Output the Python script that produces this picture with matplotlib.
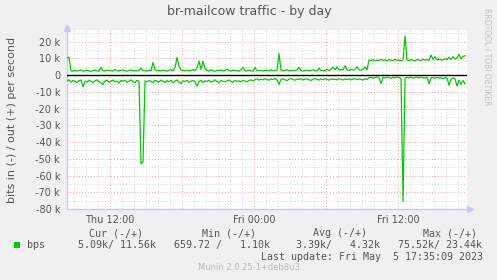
#!/usr/bin/env python3
"""Munin-style day graph of br-mailcow traffic (bits in / out per second)."""

import matplotlib

matplotlib.use("Agg")
import matplotlib.pyplot as plt
from matplotlib.patches import Rectangle
from matplotlib.ticker import FixedLocator, MultipleLocator

# samples every 10 minutes, starting Thu 08:25 (hours since Thu 00:00)
START_HOUR = 8.42
STEP_HOURS = 1 / 6

# out (+), kbit/s
bps_out = [
    10.5, 10.5, 2.6, 2.4, 2.8, 2.5, 2.7, 3.2, 2.4, 2.6, 2.9, 2.5, 2.3, 2.8, 3.0, 2.6, 2.4, 4.6, 2.7, 2.5,
    3.0, 2.6, 2.8, 2.4, 3.4, 2.7, 2.5, 2.9, 3.1, 2.6, 2.4, 2.8, 3.2, 2.6, 2.7, 2.5, 3.0, 4.2, 2.8, 2.6,
    2.5, 3.0, 2.7, 7.6, 3.2, 2.6, 2.8, 2.5, 3.1, 2.7, 2.4, 2.9, 3.3, 2.6, 4.5, 10.6, 5.5, 3.2, 2.7, 2.5,
    3.0, 2.6, 2.8, 3.4, 2.7, 4.5, 8.4, 3.5, 8.4, 3.8, 2.7, 2.5, 3.2, 2.6, 2.4, 2.9, 2.7, 3.1, 2.5, 2.8,
    3.6, 2.7, 2.5, 3.0, 2.6, 2.8, 2.4, 3.2, 4.6, 2.7, 2.5, 2.9, 2.6, 2.4, 4.5, 2.8, 2.6, 3.0, 2.5, 2.7,
    2.9, 2.5, 3.2, 2.6, 2.8, 3.0, 12.8, 3.0, 2.6, 2.8, 3.3, 2.5, 2.7, 2.9, 2.6, 3.1, 4.6, 2.8, 2.5, 2.7,
    3.0, 2.6, 2.8, 3.2, 2.7, 2.5, 4.2, 2.9, 2.6, 2.8, 3.4, 2.7, 3.5, 4.8, 3.2, 5.0, 3.0, 3.4, 3.1, 5.6,
    3.2, 2.9, 3.4, 3.0, 3.3, 5.1, 3.1, 2.9, 3.6, 5.0, 3.2, 9.0, 8.8, 9.2, 8.6, 9.0, 8.7, 9.5, 8.8, 9.1,
    8.6, 9.3, 8.9, 8.7, 9.4, 8.8, 9.0, 8.6, 9.2, 23.4, 9.1, 8.7, 9.3, 8.9, 8.6, 9.4, 9.0, 8.8, 9.5, 9.0,
    9.3, 8.9, 12.0, 9.4, 11.0, 9.1, 9.6, 9.2, 9.0, 9.8, 9.3, 10.5, 9.4, 11.0, 9.6, 10.2, 12.5, 9.8, 11.2, 11.6,
]

# in (-), kbit/s, drawn below zero
bps_in = [
    -3.5, -2.8, -4.2, -3.1, -3.8, -4.5, -3.2, -2.9, -7.0, -3.6, -4.1, -3.0, -3.7, -4.4, -3.3, -2.8, -3.9, -4.6, -5.6, -3.4,
    -3.0, -4.2, -3.6, -2.9, -4.0, -3.5, -4.8, -3.2, -3.7, -3.0, -4.3, -3.6, -2.8, -3.9, -4.4, -3.1, -3.6, -53.0, -52.0, -3.4,
    -4.0, -3.2, -3.8, -4.5, -3.0, -3.6, -4.2, -2.9, -3.7, -4.4, -3.3, -3.9, -3.1, -4.6, -3.5, -2.9, -4.1, -5.0, -3.4, -3.8,
    -3.0, -4.3, -3.6, -3.2, -4.0, -6.6, -3.7, -3.1, -4.5, -3.4, -3.9, -3.0, -4.2, -3.6, -2.8, -3.8, -4.4, -3.2, -3.6, -4.0,
    -3.3, -2.9, -3.8, -4.3, -3.1, -3.7, -3.4, -4.1, -3.0, -3.6, -3.9, -3.2, -2.8, -3.5, -2.6, -2.2, -3.0, -2.4, -2.8, -2.1,
    -2.6, -3.0, -2.3, -2.7, -2.0, -2.9, -5.5, -2.5, -2.2, -2.8, -3.2, -2.4, -2.0, -2.7, -3.0, -2.3, -2.6, -2.1, -2.9, -2.4,
    -2.2, -2.8, -3.1, -2.4, -2.0, -2.6, -2.9, -2.3, -2.7, -2.1, -2.5, -3.0, -2.2, -2.6, -2.4, -2.8, -2.1, -2.5, -2.9, -2.3,
    -2.6, -2.2, -2.8, -2.4, -2.0, -2.7, -2.3, -2.5, -2.9, -2.2, -2.6, -1.5, -1.2, -1.8, -1.4, -1.1, -1.6, -5.0, -1.3, -1.7,
    -1.2, -1.5, -1.9, -1.3, -1.6, -1.1, -1.4, -2.0, -75.5, -1.8, -1.3, -1.6, -1.2, -1.9, -1.4, -1.1, -1.7, -1.3, -1.5, -1.8,
    -1.2, -5.0, -1.6, -1.4, -2.0, -1.3, -1.7, -1.5, -2.2, -1.4, -1.8, -6.0, -2.5, -1.6, -2.2, -6.5, -3.0, -5.5, -3.2, -5.1,
]

hours = [START_HOUR + i * STEP_HOURS for i in range(len(bps_out))]

TIME_TICKS = [12, 18, 24, 30, 36]
TIME_LABELS = ["Thu 12:00", "", "Fri 00:00", "", "Fri 12:00"]
Y_TICKS = [20, 10, 0, -10, -20, -30, -40, -50, -60, -70, -80]

HEADERS = [("Cur (-/+)", 89), ("Min (-/+)", 202), ("Avg (-/+)", 313), ("Max (-/+)", 423)]
VALUES = [("5.09k/ 11.56k", 78), ("659.72 /   1.10k", 174), ("3.39k/   4.32k", 296), ("75.52k/ 23.44k", 398)]
LAST_UPDATE = "Last update: Fri May  5 17:35:09 2023"
VERSION = "Munin 2.0.25-1+deb8u3"

W, H = 497, 280
GREEN = "#00CC00"
TEXT = "#555555"
AXIS = "#C8C8F4"
MONO = "DejaVu Sans Mono"


def px(x, y):
    """Pixel position (from top-left) to figure fraction."""
    return x / W, 1 - y / H


fig = plt.figure(figsize=(W / 100, H / 100), dpi=100, facecolor="#F0F0F0")
ax = fig.add_axes([67 / W, (H - 209) / H, 400 / W, 179 / H], facecolor="white")

ax.set_xlim(START_HOUR, 41.75)
ax.set_ylim(-80, 27)

# munin grid: grey dotted minor, light red dotted major
ax.xaxis.set_major_locator(FixedLocator(TIME_TICKS))
ax.xaxis.set_minor_locator(MultipleLocator(1))
ax.yaxis.set_major_locator(FixedLocator(Y_TICKS))
ax.yaxis.set_minor_locator(MultipleLocator(5))
ax.grid(which="minor", color="#D2D2D2", linestyle=(0, (1, 2)), linewidth=0.7)
ax.grid(which="major", color="#F2A0A0", linestyle=(0, (1, 2)), linewidth=0.7)
ax.set_axisbelow(True)

ax.set_xticklabels(TIME_LABELS)
ax.set_yticklabels([f"{v} k" if v else "0" for v in Y_TICKS])
ax.tick_params(which="both", length=0, labelsize=7, labelcolor=TEXT)
ax.tick_params(axis="x", pad=4)
ax.tick_params(axis="y", pad=5)

for side in ("top", "right"):
    ax.spines[side].set_visible(False)
for side in ("left", "bottom"):
    ax.spines[side].set_color(AXIS)
    ax.spines[side].set_linewidth(1.0)
ax.plot([0], [1.01], marker="^", color=AXIS, markersize=4, transform=ax.transAxes, clip_on=False)
ax.plot([1.008], [0], marker=">", color=AXIS, markersize=4, transform=ax.transAxes, clip_on=False)

ax.axhline(0, color="black", linewidth=1.0, zorder=3)
ax.plot(hours, bps_in, color=GREEN, linewidth=0.9, zorder=4)
ax.plot(hours, bps_out, color=GREEN, linewidth=0.9, zorder=4)

ax.set_ylabel("bits in (-) / out (+) per second", fontsize=8, color=TEXT, labelpad=13)

fig.text(*px(249, 12), "br-mailcow traffic - by day", fontsize=9, color=TEXT, ha="center", va="center")
fig.text(*px(487, 57), "RRDTOOL / TOBI OETIKER", fontsize=5.5, color="#C0C0C0",
         rotation=270, ha="center", va="center")

# legend block
for label, x in HEADERS:
    fig.text(*px(x, 233), label, family=MONO, fontsize=7.2, color=TEXT, va="center")
fig.patches.append(Rectangle(px(14, 248), 6 / W, 6 / H, transform=fig.transFigure,
                             facecolor=GREEN, edgecolor="none"))
fig.text(*px(27, 245), "bps", family=MONO, fontsize=7.2, color=TEXT, va="center")
for label, x in VALUES:
    fig.text(*px(x, 245), label, family=MONO, fontsize=7.2, color=TEXT, va="center")
fig.text(*px(483, 257), LAST_UPDATE, family=MONO, fontsize=7.2, color=TEXT, ha="right", va="center")
fig.text(*px(249, 268), VERSION, fontsize=6, color="#B8B8B8", ha="center", va="center")

fig.savefig("out.png", dpi=100, facecolor=fig.get_facecolor())
